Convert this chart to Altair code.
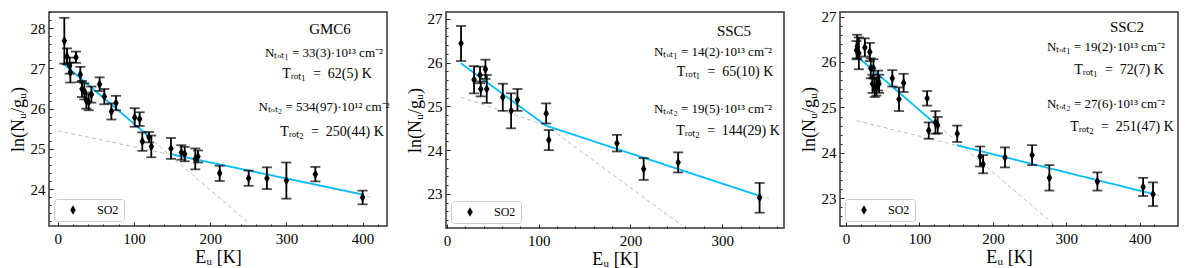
import altair as alt
import pandas as pd

# ---------------- data ----------------
# Panel 1 : GMC6
p1_E = [8.7, 12.2, 15.7, 16.6, 24.0, 29.7, 31.9, 35.0, 37.6, 40.6, 44.2, 55.0, 61.2, 70.4, 76.5,
        101.0, 107.5, 111.0, 119.8, 122.8, 148.6, 162.2, 166.6, 180.5, 184.0, 212.5, 250.5,
        274.5, 300.0, 338.0, 400.0]
p1_y = [27.69, 27.30, 27.07, 26.90, 27.28, 26.85, 26.49, 26.43, 26.20, 26.16, 26.35, 26.61, 26.30,
        25.93, 26.14, 25.78, 25.74, 25.18, 25.29, 25.06, 25.01, 24.91, 24.87, 24.75, 24.81, 24.39,
        24.27, 24.27, 24.21, 24.37, 23.79]
p1_err = [0.57, 0.20, 0.20, 0.25, 0.14, 0.19, 0.20, 0.20, 0.20, 0.20, 0.20, 0.17, 0.19, 0.20, 0.18,
          0.23, 0.17, 0.23, 0.13, 0.27, 0.26, 0.18, 0.18, 0.26, 0.15, 0.19, 0.19, 0.27, 0.45, 0.18, 0.17]
p1_fit1_E, p1_fit1_y = [8, 124], [27.11, 25.24]
p1_fit2_E, p1_fit2_y = [148, 401], [24.87, 23.86]
p1_dash1_E, p1_dash1_y = [8, 252], [27.11, 23.13]
p1_dash2_E, p1_dash2_y = [0, 412], [25.45, 23.80]
p1_text = ["GMC6", "Nₜₒₜ₁ = 33(3)·10¹³ cm⁻²", "Tᵣₒₜ₁\u2002=\u200262(5) K",
           "Nₜₒₜ₂ = 534(97)·10¹² cm⁻²", "Tᵣₒₜ₂\u2002=\u2002250(44) K"]

# Panel 2 : SSC5
p2_E = [15.3, 29.5, 36.0, 36.8, 41.9, 43.3, 60.8, 69.9, 76.8, 108.1, 111.0, 185.3, 214.4, 252.0, 340.8]
p2_y = [26.44, 25.61, 25.72, 25.40, 25.85, 25.40, 25.21, 24.90, 25.15, 24.84, 24.23, 24.16, 23.57, 23.72, 22.91]
p2_err = [0.40, 0.31, 0.19, 0.17, 0.22, 0.32, 0.31, 0.40, 0.25, 0.23, 0.23, 0.19, 0.25, 0.23, 0.34]
p2_fit1_E, p2_fit1_y = [15, 108], [25.99, 24.56]
p2_fit2_E, p2_fit2_y = [108, 340], [24.56, 22.96]
p2_dash1_E, p2_dash1_y = [15, 256], [25.99, 22.28]
p2_dash2_E, p2_dash2_y = [15, 351], [25.21, 22.89]
p2_text = ["SSC5", "Nₜₒₜ₁ = 14(2)·10¹³ cm⁻²", "Tᵣₒₜ₁\u2002=\u200265(10) K",
           "Nₜₒₜ₂ = 19(5)·10¹³ cm⁻²", "Tᵣₒₜ₂\u2002=\u2002144(29) K"]

# Panel 3 : SSC2
p3_E = [14.4, 15.3, 17.6, 25.7, 32.5, 33.8, 36.1, 37.4, 39.2, 41.5, 43.7, 45.1, 63.1, 72.2, 78.5,
        110.5, 112.7, 121.8, 124.9, 151.5, 182.6, 186.7, 216.5, 253.4, 276.9, 342.3, 404.5, 418.0]
p3_y = [26.26, 26.34, 26.19, 26.32, 26.22, 25.86, 25.52, 25.86, 25.43, 25.46, 25.59, 25.52, 25.64,
        25.18, 25.54, 25.20, 24.49, 24.67, 24.61, 24.42, 23.92, 23.75, 23.90, 23.95, 23.45, 23.37,
        23.25, 23.09]
p3_err = [0.20, 0.26, 0.35, 0.20, 0.20, 0.22, 0.20, 0.20, 0.20, 0.20, 0.22, 0.20, 0.18, 0.26, 0.20,
          0.16, 0.18, 0.25, 0.18, 0.18, 0.22, 0.20, 0.22, 0.22, 0.28, 0.20, 0.20, 0.26]
p3_fit1_E, p3_fit1_y = [17.6, 118], [26.09, 24.69]
p3_fit2_E, p3_fit2_y = [150.6, 416.7], [24.17, 23.10]
p3_dash1_E, p3_dash1_y = [17.6, 285], [26.09, 22.40]
p3_dash2_E, p3_dash2_y = [14.4, 429], [24.71, 23.05]
p3_text = ["SSC2", "Nₜₒₜ₁ = 19(2)·10¹³ cm⁻²", "Tᵣₒₜ₁\u2002=\u200272(7) K",
           "Nₜₒₜ₂ = 27(6)·10¹³ cm⁻²", "Tᵣₒₜ₂\u2002=\u2002251(47) K"]

species = "SO2"

# axis ticks: major (labelled) and minor
x_major_400 = [0, 100, 200, 300, 400]
x_minor_400 = [20, 40, 60, 80, 120, 140, 160, 180, 220, 240, 260, 280, 320, 340, 360, 380, 420]
x_major_300 = [0, 100, 200, 300]
x_minor_300 = [20, 40, 60, 80, 120, 140, 160, 180, 220, 240, 260, 280, 320, 340, 360]
y_major_1 = [24, 25, 26, 27, 28]
y_minor_1 = [23.2, 23.4, 23.6, 23.8, 24.2, 24.4, 24.6, 24.8, 25.2, 25.4, 25.6, 25.8,
             26.2, 26.4, 26.6, 26.8, 27.2, 27.4, 27.6, 27.8, 28.2, 28.4]
y_major_2 = [23, 24, 25, 26, 27]
y_minor_2 = [22.4, 22.6, 22.8, 23.2, 23.4, 23.6, 23.8, 24.2, 24.4, 24.6, 24.8, 25.2, 25.4,
             25.6, 25.8, 26.2, 26.4, 26.6, 26.8, 27.2]

FONT = "Liberation Serif"
DIAMOND = "M0,-1L0.58,0L0,1L-0.58,0Z"
BLUE = "#00BFFF"
GREY = "#bdbdbd"


def major_axis(orient, values, title, pad, tpad):
    return alt.Axis(orient=orient, values=values, format="d", title=title,
                    offset=-4, tickSize=4, tickWidth=1, tickColor="#222222",
                    domain=False, grid=False, labelPadding=pad, titlePadding=tpad,
                    labelOverlap=False, labelFlush=False)


def minor_axis(orient, values):
    return alt.Axis(orient=orient, values=values, labels=False, title=None,
                    offset=-2, tickSize=2, tickWidth=1, tickColor="#222222",
                    domain=False, grid=False)


def panel(E, Y, ERR, f1, f2, d1, d2, texts, tx, ty, tsize, xdom, ydom,
          xmaj, xmin, ymaj, ymin, width, height):
    xs = alt.Scale(domain=xdom, nice=False, zero=False)
    ys = alt.Scale(domain=ydom, nice=False, zero=False)
    xa = major_axis("bottom", xmaj, "Eᵤ [K]", 5, 2)
    ya = major_axis("left", ymaj, "ln(Nᵤ/gᵤ)", 4, 3)
    xm = minor_axis("bottom", xmin)
    ym = minor_axis("left", ymin)

    def X(f, ax=None):
        return alt.X(f, type="quantitative", scale=xs, axis=ax)

    def Yc(f, ax=None):
        return alt.Y(f, type="quantitative", scale=ys, axis=ax)

    def line(seg, color, dash, w, ax_x=None, ax_y=None):
        df = pd.DataFrame({"E": seg[0], "v": seg[1]})
        return alt.Chart(df).mark_line(color=color, strokeDash=dash, strokeWidth=w, clip=True).encode(
            x=X("E", ax_x), y=Yc("v", ax_y))

    pts = pd.DataFrame({"E": E, "v": Y, "err": ERR, "species": [species] * len(E)})
    base = alt.Chart(pts).transform_calculate(lo="datum.v - datum.err", hi="datum.v + datum.err")

    layers = [
        line(d1, GREY, [4, 3], 1, xm, ym),
        line(d2, GREY, [4, 3], 1),
        line(f1, BLUE, [1, 0], 1.8),
        line(f2, BLUE, [1, 0], 1.8),
        base.mark_rule(color="black", strokeWidth=1.8, clip=True).encode(
            x=X("E"), y=Yc("lo:Q"), y2="hi:Q"),
        base.mark_tick(orient="horizontal", color="black", size=10, thickness=1.8, clip=True).encode(
            x=X("E"), y=Yc("lo")),
        base.mark_tick(orient="horizontal", color="black", size=10, thickness=1.8, clip=True).encode(
            x=X("E"), y=Yc("hi")),
        base.mark_point(shape=DIAMOND, filled=True, size=90, opacity=1, clip=True).encode(
            x=X("E", xa), y=Yc("v", ya),
            color=alt.Color("species:N", scale=alt.Scale(range=["black"]),
                            legend=alt.Legend(
                                title=None, orient="bottom-left", offset=5,
                                strokeColor="#cccccc", fillColor="white", cornerRadius=3, padding=5,
                                symbolType=DIAMOND, symbolSize=90, symbolFillColor="black",
                                symbolStrokeColor="black", symbolStrokeWidth=0, symbolOffset=8,
                                labelOffset=18, labelFont=FONT, labelFontSize=12, labelColor="black"))),
    ]
    for i, t in enumerate(texts):
        layers.append(
            alt.Chart(pd.DataFrame({"t": [t]})).mark_text(
                font=FONT, fontSize=tsize[i], color="black", align="center", baseline="middle"
            ).encode(x=alt.value(tx[i]), y=alt.value(ty[i]), text="t:N")
        )
    return (alt.layer(*layers)
            .resolve_axis(x="independent", y="independent")
            .properties(width=width, height=height))


SIZES = [15, 13, 14, 13, 14]
p1 = panel(p1_E, p1_y, p1_err, (p1_fit1_E, p1_fit1_y), (p1_fit2_E, p1_fit2_y),
           (p1_dash1_E, p1_dash1_y), (p1_dash2_E, p1_dash2_y), p1_text,
           [281, 275, 278, 275, 283], [17, 41, 62, 95, 120], SIZES,
           [-11.4, 432], [23.08, 28.405], x_major_400, x_minor_400, y_major_1, y_minor_1, 338, 214)
p2 = panel(p2_E, p2_y, p2_err, (p2_fit1_E, p2_fit1_y), (p2_fit2_E, p2_fit2_y),
           (p2_dash1_E, p2_dash1_y), (p2_dash2_E, p2_dash2_y), p2_text,
           [288, 267, 279, 267, 282], [19, 40, 60, 97, 119], SIZES,
           [-1.1, 367.4], [22.22, 27.16], x_major_300, x_minor_300, y_major_2, y_minor_2, 338, 216)
p3 = panel(p3_E, p3_y, p3_err, (p3_fit1_E, p3_fit1_y), (p3_fit2_E, p3_fit2_y),
           (p3_dash1_E, p3_dash1_y), (p3_dash2_E, p3_dash2_y), p3_text,
           [287, 266, 279, 266, 282], [15, 35, 58, 92, 115], SIZES,
           [-8.1, 452], [22.39, 27.1], x_major_400, x_minor_400, y_major_2, y_minor_2, 338, 214)

chart = (
    alt.hconcat(p1, p2, p3, spacing=14)
    .resolve_scale(color="independent", x="independent", y="independent")
    .properties(padding={"left": 0, "top": 0, "right": 0, "bottom": 0})
    .configure_view(stroke="#333333", strokeWidth=1.5)
    .configure_axis(labelFont=FONT, titleFont=FONT, labelFontSize=15, titleFontSize=18,
                    labelColor="black", titleColor="black", titleFontWeight="normal")
)

chart.save("out.html", embed_options={"renderer": "svg", "actions": False})
